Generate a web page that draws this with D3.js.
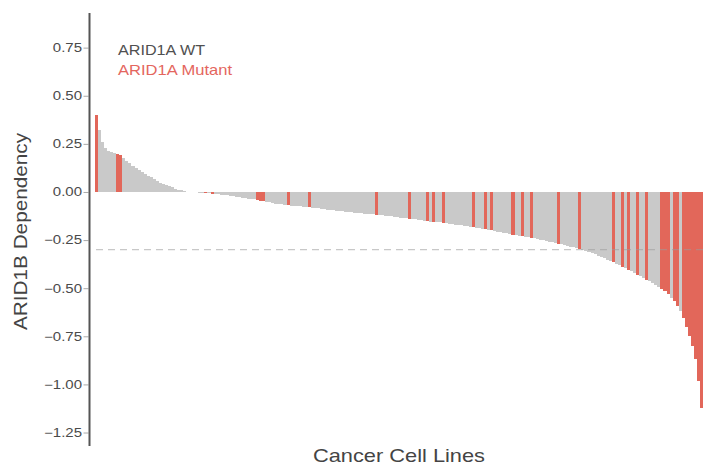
<!DOCTYPE html>
<html>
<head>
<meta charset="utf-8">
<script src="https://cdn.jsdelivr.net/npm/d3@7"></script>
<style>
  body { margin: 0; background: #fff; }
  svg { display: block; font-family: "Liberation Sans", Arial, sans-serif; }
</style>
</head>
<body>
<svg id="chart" width="703" height="466"></svg>
<script>
// ARID1B dependency per cancer cell line, sorted high -> low
const dependency = [
   0.40,  0.32,  0.26,  0.23,  0.213, 0.208, 0.204, 0.196, 0.19,  0.176,
   0.16,  0.15,  0.137, 0.126, 0.116, 0.104, 0.094, 0.085, 0.076, 0.067,
   0.057, 0.049, 0.043, 0.037, 0.031, 0.024, 0.018, 0.012, 0.008, 0.004,
   0.002, 0.0005,-0.001,-0.002,-0.004,-0.005,-0.006,-0.007,-0.009,-0.011,
  -0.012,-0.014,-0.016,-0.018,-0.02, -0.022,-0.025,-0.027,-0.029,-0.031,
  -0.034,-0.036,-0.039,-0.042,-0.045,-0.048,-0.051,-0.054,-0.057,-0.06,
  -0.063,-0.065,-0.068,-0.07, -0.072,-0.073,-0.074,-0.075,-0.076,-0.078,
  -0.079,-0.081,-0.083,-0.085,-0.088,-0.09, -0.092,-0.094,-0.096,-0.098,
  -0.099,-0.101,-0.102,-0.104,-0.105,-0.107,-0.108,-0.11, -0.112,-0.113,
  -0.115,-0.117,-0.118,-0.12, -0.122,-0.124,-0.125,-0.127,-0.129,-0.131,
  -0.133,-0.134,-0.136,-0.138,-0.141,-0.143,-0.145,-0.148,-0.15, -0.152,
  -0.154,-0.156,-0.157,-0.158,-0.16, -0.162,-0.165,-0.167,-0.17, -0.172,
  -0.174,-0.176,-0.178,-0.18, -0.182,-0.185,-0.188,-0.191,-0.194,-0.197,
  -0.2,  -0.203,-0.206,-0.209,-0.212,-0.215,-0.218,-0.221,-0.224,-0.227,
  -0.229,-0.232,-0.235,-0.237,-0.24, -0.244,-0.248,-0.252,-0.256,-0.259,
  -0.262,-0.265,-0.269,-0.272,-0.276,-0.28, -0.284,-0.288,-0.292,-0.296,
  -0.3,  -0.306,-0.312,-0.318,-0.324,-0.331,-0.338,-0.345,-0.352,-0.359,
  -0.366,-0.373,-0.38, -0.388,-0.396,-0.404,-0.413,-0.421,-0.43, -0.438,
  -0.447,-0.456,-0.465,-0.474,-0.484,-0.494,-0.505,-0.517,-0.532,-0.55,
  -0.568,-0.59, -0.618,-0.655,-0.7,  -0.75, -0.8,  -0.87, -0.98, -1.12
];

// positions (in the sorted order) of the ARID1A mutant lines
const mutantIndex = [
  0, 7, 8, 36, 38, 53, 54, 55, 63, 70, 92, 103, 109, 111, 114,
  124, 128, 130, 137, 140, 143, 152, 159, 170, 173, 175, 178, 181,
  186, 187, 188, 190, 191, 193, 194, 195, 196, 197, 198, 199
];

const yTicks = [0.75, 0.5, 0.25, 0, -0.25, -0.5, -0.75, -1.0, -1.25];
const threshold = -0.3;
const legendLabels = ["ARID1A WT", "ARID1A Mutant"];

const colors = { wt: "#c9c9c9", mutant: "#e2675a", wtText: "#505050", mutantText: "#e4665e" };

const svg = d3.select("#chart");
const axisX = 88.5;

const mutantSet = new Set(mutantIndex);
const cells = dependency.map((v, i) => ({ i: i, v: v, mutant: mutantSet.has(i) }));

const x = d3.scaleBand()
    .domain(d3.range(dependency.length))
    .range([95, 703])
    .padding(0);

const y = d3.scaleLinear()
    .domain([-1.32, 0.93])
    .range([446, 13]);

// bars
svg.append("g")
    .attr("shape-rendering", "crispEdges")
  .selectAll("rect")
  .data(cells)
  .enter().append("rect")
    .attr("x", d => x(d.i))
    .attr("width", x.bandwidth())
    .attr("y", d => y(Math.max(0, d.v)))
    .attr("height", d => Math.abs(y(d.v) - y(0)))
    .attr("fill", d => d.mutant ? colors.mutant : colors.wt);

// dashed cut-off line
svg.append("line")
    .attr("x1", 96).attr("x2", 703)
    .attr("y1", y(threshold)).attr("y2", y(threshold))
    .attr("stroke", "#9a9a9a")
    .attr("stroke-opacity", 0.55)
    .attr("stroke-width", 1.2)
    .attr("stroke-dasharray", "7,5");

// y axis
const yAxis = svg.append("g")
    .attr("transform", `translate(${axisX},0)`)
    .call(d3.axisLeft(y).tickValues(yTicks).tickFormat(d3.format(".2f")).tickSize(5).tickPadding(0));

yAxis.select(".domain").remove();
yAxis.selectAll(".tick line").attr("stroke", "#aaa");
yAxis.selectAll(".tick text")
    .attr("x", -5.2)
    .attr("transform", "scale(1.25,1)")
    .attr("fill", "#4a4a4a")
    .style("font-size", "12px");

svg.append("line")
    .attr("x1", 89.5).attr("x2", 89.5)
    .attr("y1", 13).attr("y2", 446)
    .attr("stroke", "#555")
    .attr("stroke-width", 2);

// legend (plain coloured text)
svg.append("text")
    .attr("x", 118).attr("y", 55)
    .attr("fill", colors.wtText)
    .attr("textLength", 87).attr("lengthAdjust", "spacingAndGlyphs")
    .style("font-size", "15px")
    .text(legendLabels[0]);

svg.append("text")
    .attr("x", 118).attr("y", 75)
    .attr("fill", colors.mutantText)
    .attr("textLength", 114).attr("lengthAdjust", "spacingAndGlyphs")
    .style("font-size", "15px")
    .text(legendLabels[1]);

// axis titles
svg.append("text")
    .attr("x", 399).attr("y", 462)
    .attr("text-anchor", "middle")
    .attr("fill", "#444")
    .attr("textLength", 172).attr("lengthAdjust", "spacingAndGlyphs")
    .style("font-size", "19px")
    .text("Cancer Cell Lines");

svg.append("text")
    .attr("transform", "translate(27,231.5) rotate(-90)")
    .attr("text-anchor", "middle")
    .attr("fill", "#444")
    .attr("textLength", 197).attr("lengthAdjust", "spacingAndGlyphs")
    .style("font-size", "18px")
    .text("ARID1B Dependency");
</script>
</body>
</html>
